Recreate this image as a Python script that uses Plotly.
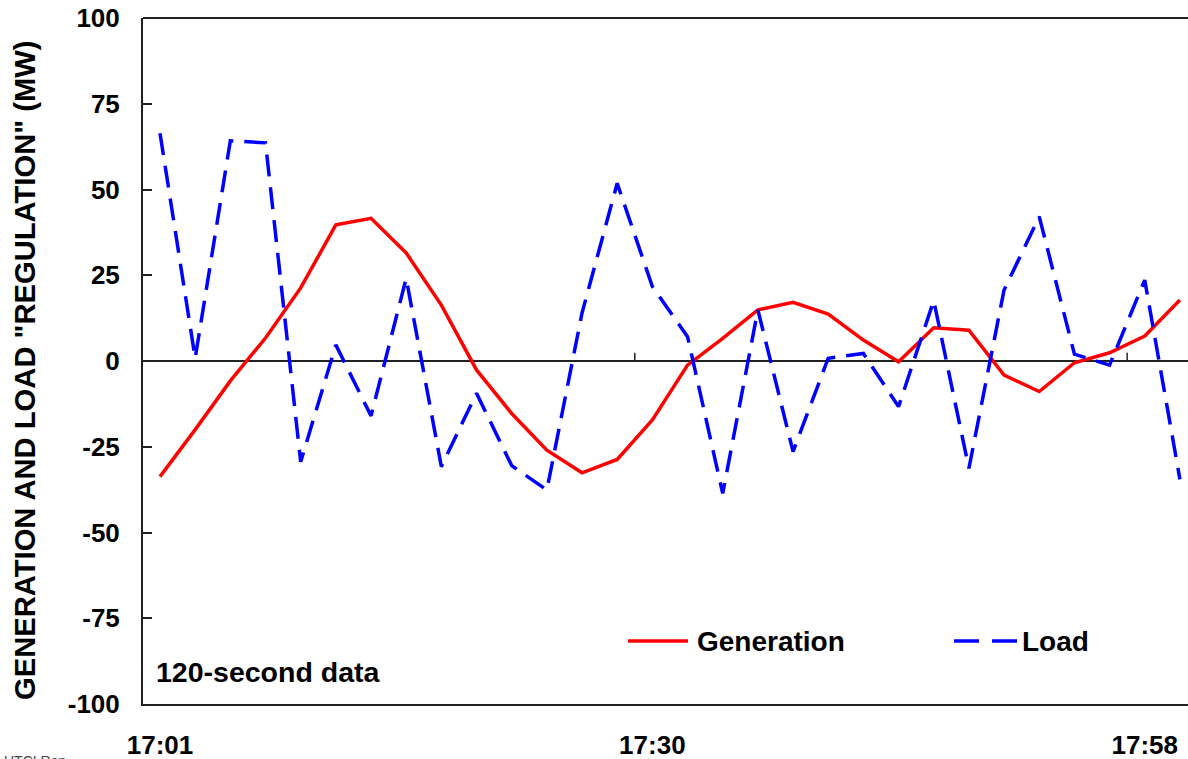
import plotly.graph_objects as go

# ---- data (120-second samples) ----
sample_index = list(range(30))
generation = [-33.7, -20.0, -5.8, 6.7, 21.3, 39.7, 41.6, 31.5, 16.3, -2.6,
              -15.3, -26.0, -32.6, -28.7, -17.2, -1.2, 6.6, 14.9, 17.1, 13.7,
              6.1, -0.2, 9.7, 9.0, -4.1, -8.9, -0.5, 2.4, 7.3, 17.8]
load = [66.4, 0.8, 64.2, 63.6, -29.4, 4.7, -16.0, 24.1, -30.8, -9.4,
        -30.5, -37.6, 14.0, 51.8, 21.7, 7.1, -38.6, 14.9, -26.4, 0.8,
        2.2, -13.3, 17.6, -31.3, 20.7, 42.1, 2.0, -1.2, 23.6, -34.5]
x_tick_index = [0, 14, 28]
x_tick_labels = ["17:01", "17:30", "17:58"]
y_ticks = [-100, -75, -50, -25, 0, 25, 50, 75, 100]
y_tick_labels = ["-100", "-75", "-50", "-25", "0", "25", "50", "75", "100"]
minor_tick_index = [13.5, 27.5]

FONT = "Liberation Sans, Arial, sans-serif"
W, H = 1188, 759
L, R, T, B = 143, 0, 18, 55
PW, PH = W - L - R, H - T - B


def px(xp):
    return (xp - L) / PW


def py(yp):
    return (H - B - yp) / PH


fig = go.Figure()
fig.add_trace(go.Scatter(x=sample_index, y=generation, mode="lines",
                         line=dict(color="#ff0000", width=3.5),
                         name="Generation", showlegend=False))
fig.add_trace(go.Scatter(x=sample_index, y=load, mode="lines",
                         line=dict(color="#0000ff", width=3.5, dash="22px,11px"),
                         name="Load", showlegend=False))

shapes = []
# small tick marks on the zero axis
for t in minor_tick_index:
    shapes.append(dict(type="line", xref="x", yref="y", x0=t, x1=t, y0=0, y1=2.4,
                       line=dict(color="#222", width=1.5)))
# top frame line
shapes.append(dict(type="line", xref="paper", yref="paper", x0=0, x1=1, y0=1, y1=1,
                   line=dict(color="#222", width=2)))
# custom legend samples
shapes.append(dict(type="line", xref="paper", yref="paper",
                   x0=px(628), x1=px(688), y0=py(641), y1=py(641),
                   line=dict(color="#ff0000", width=3.5)))
shapes.append(dict(type="line", xref="paper", yref="paper",
                   x0=px(954), x1=px(1017), y0=py(641), y1=py(641),
                   line=dict(color="#0000ff", width=3.5, dash="25px,13px")))

annotations = [
    dict(text="Generation", xref="paper", yref="paper", x=px(695), y=py(641),
         xanchor="left", yanchor="middle", showarrow=False,
         font=dict(family=FONT, size=28, color="#000", weight="bold")),
    dict(text="Load", xref="paper", yref="paper", x=px(1020), y=py(641),
         xanchor="left", yanchor="middle", showarrow=False,
         font=dict(family=FONT, size=28, color="#000", weight="bold")),
    dict(text="120-second data", xref="paper", yref="paper", x=px(154), y=py(672),
         xanchor="left", yanchor="middle", showarrow=False,
         font=dict(family=FONT, size=28.5, color="#000", weight="bold")),
    dict(text='GENERATION AND LOAD "REGULATION" (MW)', xref="paper", yref="paper",
         x=px(25), y=py(371), xanchor="center", yanchor="middle", textangle=-90,
         showarrow=False,
         font=dict(family=FONT, size=29.2, color="#000", weight="bold")),
    dict(text="UTCI Rep", xref="paper", yref="paper", x=px(2), y=py(751),
         xanchor="left", yanchor="top", showarrow=False,
         font=dict(family=FONT, size=14, color="#444")),
]

fig.update_layout(
    width=W, height=H,
    margin=dict(l=L, r=R, t=T, b=B, pad=0, autoexpand=False),
    paper_bgcolor="white", plot_bgcolor="white",
    showlegend=False,
    shapes=shapes, annotations=annotations,
    font=dict(family=FONT, color="#000"),
    xaxis=dict(range=[-0.4834, 29.23], tickmode="array", tickvals=x_tick_index,
               ticktext=x_tick_labels, ticks="", showgrid=False, zeroline=False,
               showline=True, linecolor="#222", linewidth=2, mirror=False,
               ticklabelstandoff=17, automargin=False,
               tickfont=dict(family=FONT, size=26, color="#000", weight="bold")),
    yaxis=dict(range=[-100, 100], tickmode="array", tickvals=y_ticks,
               ticktext=y_tick_labels,
               ticks="inside", ticklen=9, tickwidth=1.5, tickcolor="#222",
               showgrid=False, zeroline=True, zerolinecolor="#222", zerolinewidth=2,
               showline=True, linecolor="#222", linewidth=2, mirror=False,
               ticklabelstandoff=16, automargin=False,
               tickfont=dict(family=FONT, size=26, color="#000", weight="bold")),
)

fig.write_html("out.html")
